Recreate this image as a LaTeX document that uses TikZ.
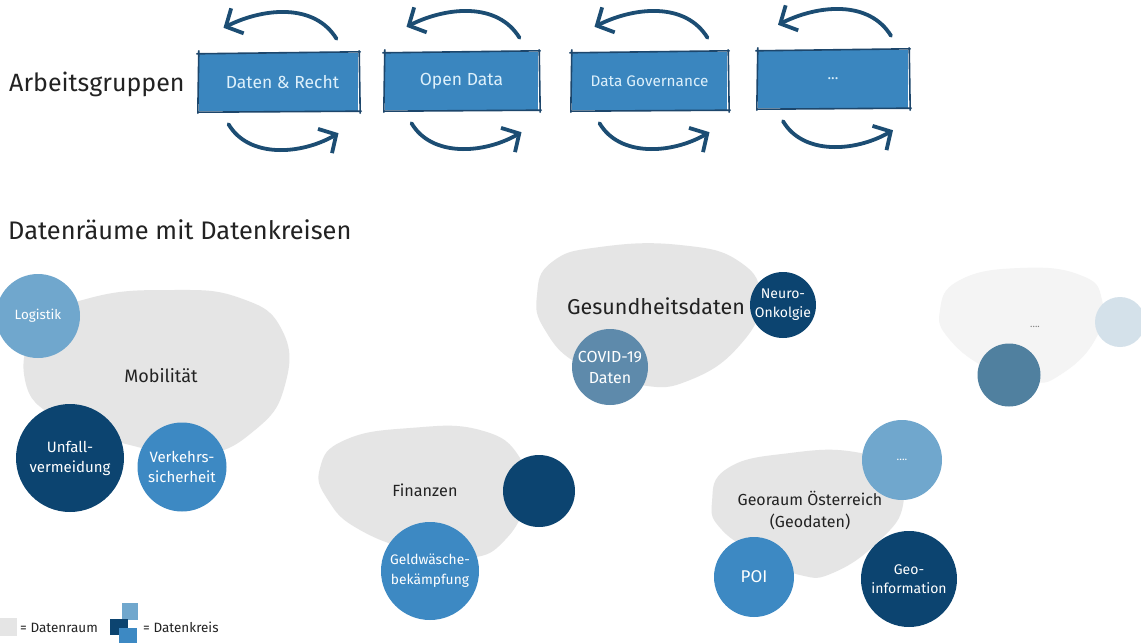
\documentclass[tikz,border=0pt]{standalone}
\usepackage{fontspec}
\setmainfont{Fira Sans}
\usetikzlibrary{arrows.meta,calc}
\definecolor{navy}{HTML}{0C4470}
\definecolor{midblue}{HTML}{3D89C3}
\definecolor{lightblue}{HTML}{70A7CD}
\definecolor{covid}{HTML}{5E8AAB}
\definecolor{paleblue}{HTML}{D4E1EA}
\definecolor{greyblue}{HTML}{50809F}
\definecolor{blobgray}{HTML}{E5E5E5}
\definecolor{blobpale}{HTML}{F4F4F4}
\definecolor{boxfill}{HTML}{3A86BF}
\definecolor{boxedge}{HTML}{1D466B}
\definecolor{arrowcol}{HTML}{1C4D73}
\definecolor{boxtext}{HTML}{DDF0FB}
\definecolor{txt}{HTML}{222222}
\tikzset{
  wgbox/.style={rectangle, fill=boxfill, draw=none, text=boxtext, inner sep=0pt, minimum height=58pt},
  boxline/.style={draw=boxedge, line width=1.6pt, line cap=round},
  cyc/.style={arrowcol, line width=3.8pt, line cap=round, -{Straight Barb[length=13pt,width=28pt]}},
  blob/.style={fill=blobgray, draw=none},
  kreis/.style={circle, draw=none, inner sep=0pt, text=white, align=center},
  title/.style={text=txt, anchor=west, inner sep=0pt},
  blobtext/.style={text=txt, align=center, inner sep=0pt},
}
\begin{document}
\begin{tikzpicture}[x=1pt,y=-1pt]
\useasboundingbox (0,0) rectangle (1141,643);
\fill[white] (0,0) rectangle (1141,643);

% ---------- Arbeitsgruppen ----------
\node[title, font=\fontsize{25}{29}\selectfont] (ag) at (9,84) {Arbeitsgruppen};
\node[wgbox, minimum width=159pt, font=\fontsize{17.5}{20}\selectfont] (b1) at (278.5,82) {\hspace*{8pt}Daten \& Recht};
\node[wgbox, minimum width=153pt, font=\fontsize{17.5}{20}\selectfont] (b2) at (461.5,81) {Open Data};
\node[wgbox, minimum width=155pt, font=\fontsize{15.3}{18}\selectfont] (b3) at (649.5,81) {Data Governance};
\node[wgbox, minimum width=150pt, font=\fontsize{15}{18}\selectfont] (b4) at (833,79) {...};

\foreach \n in {b1,b2,b3,b4} {
  \draw[boxline] ([shift={(-2,1)}]\n.north west) -- ([shift={(2,-1)}]\n.north east);
  \draw[boxline] ([shift={(1,-2)}]\n.north east) -- ([shift={(2,2)}]\n.south east);
  \draw[boxline] ([shift={(3,0)}]\n.south east) -- ([shift={(-1,1)}]\n.south west);
  \draw[boxline] ([shift={(-1,2)}]\n.south west) -- ([shift={(0,-2)}]\n.north west);
  % upper arrow (right to left)
  \draw[cyc] ([shift={(58,-14)}]\n.north) .. controls +(-22,-36) and +(40,-20) .. ([shift={(-55,-25)}]\n.north);
  % lower arrow (left to right)
  \draw[cyc] ([shift={(-50,13)}]\n.south) .. controls +(20,34) and +(-38,22) .. ([shift={(60,22)}]\n.south);
}

% ---------- Datenraeume ----------
\node[title, font=\fontsize{25.4}{29}\selectfont] (dr) at (8,230) {Datenräume mit Datenkreisen};

% blobs
\fill[blob] plot[smooth cycle, tension=0.8] coordinates {(25,380) (40,325) (90,298) (170,290) (240,298) (282,330) (285,385) (255,430) (200,455) (130,445) (60,420)};
\fill[blob] plot[smooth cycle, tension=0.8] coordinates {(537,295) (552,262) (600,247) (680,245) (740,262) (760,300) (740,345) (690,380) (640,385) (580,365) (545,330)};
\fill[blob] plot[smooth cycle, tension=0.8] coordinates {(320,468) (345,440) (410,428) (480,430) (520,458) (525,500) (505,540) (470,558) (420,552) (360,530) (328,500)};
\fill[blob] plot[smooth cycle, tension=0.8] coordinates {(712,502) (728,468) (790,453) (855,452) (893,470) (903,505) (880,540) (835,572) (800,575) (760,555) (722,530)};
\fill[blobpale] plot[smooth cycle, tension=0.8] coordinates {(940,310) (960,280) (1020,268) (1080,275) (1102,300) (1095,340) (1060,375) (1030,382) (990,370) (950,340)};

% blob labels
\node[blobtext, font=\fontsize{18}{21}\selectfont] (mob) at (161,376) {Mobilität};
\node[blobtext, font=\fontsize{21.5}{25}\selectfont] (ges) at (656,306) {Gesundheitsdaten};
\node[blobtext, font=\fontsize{16.2}{19}\selectfont] (fin) at (425,490) {Finanzen};
\node[blobtext, font=\fontsize{16}{22}\selectfont] (geo) at (810,511) {Georaum Österreich\\(Geodaten)};
\node[blobtext, font=\fontsize{10}{10}\selectfont, text=gray] (dots) at (1035,327) {....};

% circles
\node[kreis, fill=lightblue, minimum size=84pt, font=\fontsize{13.4}{15}\selectfont] (log) at (38,316) {Logistik};
\node[kreis, fill=navy, minimum size=108pt, font=\fontsize{15}{20}\selectfont] (unf) at (70,458) {Unfall-\\vermeidung};
\node[kreis, fill=midblue, minimum size=89pt, font=\fontsize{15}{20}\selectfont] (ver) at (182,467) {Verkehrs-\\sicherheit};
\node[kreis, fill=navy, minimum size=66pt, font=\fontsize{14}{19}\selectfont] (neu) at (783,305) {Neuro-\\Onkolgie};
\node[kreis, fill=covid, minimum size=76pt, font=\fontsize{16}{21}\selectfont] (cov) at (610,367) {COVID-19\\Daten};
\node[kreis, fill=paleblue, minimum size=50pt] (rp) at (1120,322) {};
\node[kreis, fill=greyblue, minimum size=63pt] (rg) at (1009,375) {};
\node[kreis, fill=navy, minimum size=72pt] (fn) at (539,491) {};
\node[kreis, fill=midblue, minimum size=98pt, font=\fontsize{13.8}{20}\selectfont] (gw) at (430,571) {Geldwäsche-\\bekämpfung};
\node[kreis, fill=lightblue, minimum size=80pt, font=\fontsize{11}{13}\selectfont] (gd) at (902,460) {....};
\node[kreis, fill=midblue, minimum size=80pt, font=\fontsize{17}{20}\selectfont] (poi) at (754,577) {POI};
\node[kreis, fill=navy, minimum size=96pt, font=\fontsize{14}{19}\selectfont] (gin) at (909,579) {Geo-\\information};

% ---------- Legende ----------
\fill[blobgray] (0,618) rectangle (17,636);
\node[title, font=\fontsize{13.5}{15}\selectfont, text=txt] (l1) at (20,628) {= Datenraum};
\fill[lightblue] (122,603) rectangle (138,620);
\fill[navy] (110,619) rectangle (128,635);
\fill[midblue] (119,628) rectangle (137,643);
\node[title, font=\fontsize{13.5}{15}\selectfont, text=txt] (l2) at (143,627) {= Datenkreis};
\end{tikzpicture}
\end{document}
